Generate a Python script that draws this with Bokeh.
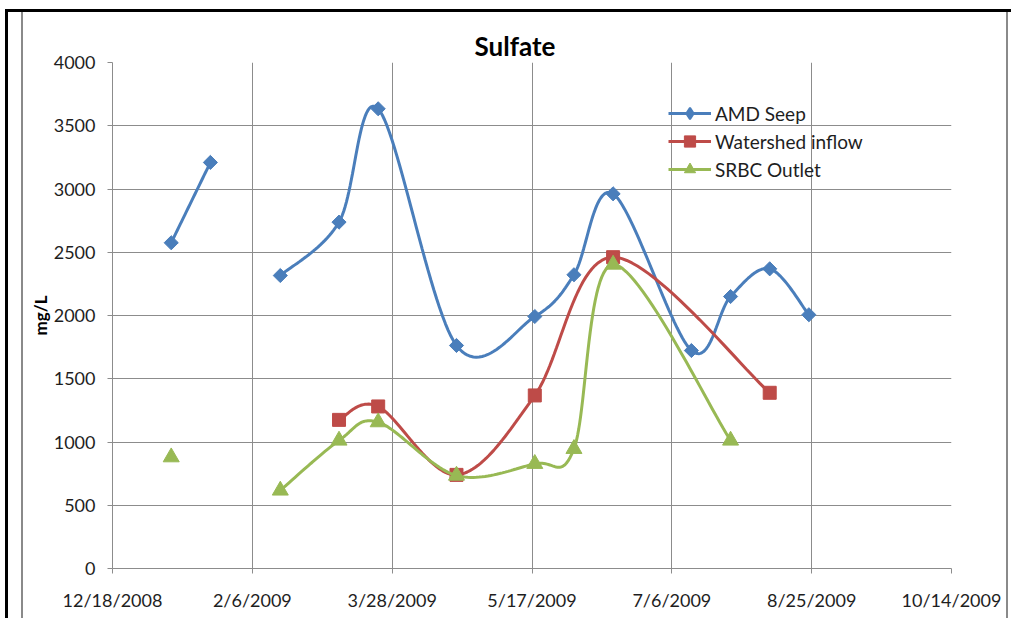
import numpy as np
import pandas as pd
from bokeh.plotting import figure
from bokeh.models import FixedTicker, Legend, LegendItem, Range1d
from bokeh.embed import file_html
from bokeh.resources import INLINE

# ---------------- data ----------------
title_text = "Sulfate"
y_label = "mg/L"

# None marks a break in a series' line
amd_dates = ["2009-01-08", "2009-01-22", None, "2009-02-16", "2009-03-09", "2009-03-23",
             "2009-04-20", "2009-05-18", "2009-06-01", "2009-06-15", "2009-07-13",
             "2009-07-27", "2009-08-10", "2009-08-24"]
amd_seep = [2575, 3210, None, 2316, 2738, 3634, 1763, 1992, 2322, 2962, 1723, 2150, 2369, 2006]

inflow_dates = ["2009-03-09", "2009-03-23", "2009-04-20", "2009-05-18", "2009-06-15", "2009-08-10"]
watershed_inflow = [1175, 1281, 740, 1368, 2461, 1389]

srbc_dates = ["2009-01-08", None, "2009-02-16", "2009-03-09", "2009-03-23", "2009-04-20",
              "2009-05-18", "2009-06-01", "2009-06-15", "2009-07-27"]
srbc_outlet = [880, None, 617, 1012, 1157, 735, 828, 946, 2403, 1012]

series_names = ["AMD Seep", "Watershed inflow", "SRBC Outlet"]

x_tick_labels = ["12/18/2008", "2/6/2009", "3/28/2009", "5/17/2009", "7/6/2009", "8/25/2009", "10/14/2009"]
y_ticks = [0, 500, 1000, 1500, 2000, 2500, 3000, 3500, 4000]

# ---------------- styling ----------------
BLUE, RED, GREEN = "#4A7EBB", "#BE4B48", "#98B954"
GRID = "#8c8c8c"
FONT = "Lato"


def to_ms(s):
    return pd.Timestamp(s).value / 1e6


def segments(dates, vals):
    segs, cur = [], []
    for d, v in zip(dates, vals):
        if d is None or v is None:
            if cur:
                segs.append(cur)
            cur = []
        else:
            cur.append((to_ms(d), float(v)))
    if cur:
        segs.append(cur)
    return segs


def smooth(dates, vals, n=30):
    xs, ys = [], []
    for seg in segments(dates, vals):
        P = np.array(seg)
        if len(P) < 2:
            continue
        for i in range(len(P) - 1):
            p0 = P[i - 1] if i > 0 else P[i]
            p1, p2 = P[i], P[i + 1]
            p3 = P[i + 2] if i + 2 < len(P) else P[i + 1]
            c1 = p1 + (p2 - p0) / 6.0
            c2 = p2 - (p3 - p1) / 6.0
            t = np.linspace(0, 1, n)[:, None] if i == 0 else np.linspace(0, 1, n)[1:, None]
            B = ((1 - t) ** 3) * p1 + 3 * ((1 - t) ** 2) * t * c1 + 3 * (1 - t) * t * t * c2 + t ** 3 * p2
            xs.extend(B[:, 0].tolist())
            ys.extend(B[:, 1].tolist())
        xs.append(np.nan)
        ys.append(np.nan)
    return xs, ys


def points(dates, vals):
    px, py = [], []
    for d, v in zip(dates, vals):
        if d is not None and v is not None:
            px.append(to_ms(d))
            py.append(v)
    return px, py


x_ticks = [to_ms(pd.to_datetime(s, format="%m/%d/%Y")) for s in x_tick_labels]

# page / chart-area frame lines drawn as inset shadows on the figure's host element
frame_css = ", ".join([
    "inset 0 9px 0 0 white",
    "inset 5px 0 0 0 white",
    "inset 0 12px 0 0 black",
    "inset 8px 0 0 0 black",
    "inset 21px 0 0 0 white",
    "inset 23px 0 0 0 #8a8a8a",
    "inset -3px 0 0 0 white",
    "inset -5px 0 0 0 #8a8a8a",
])

p = figure(width=1011, height=618, output_backend="svg", toolbar_location=None,
           x_range=Range1d(x_ticks[0], x_ticks[-1]), y_range=Range1d(y_ticks[0], y_ticks[-1]),
           min_border_left=112, min_border_right=60, min_border_top=62, min_border_bottom=50,
           styles={"box-shadow": frame_css, "background-color": "white"})
p.background_fill_color = "white"
p.border_fill_alpha = 0
p.outline_line_color = None

p.title.text = title_text
p.title.text_font = FONT
p.title.text_font_size = "26px"
p.title.text_font_style = "bold"
p.title.text_color = "black"
p.title.align = "left"
p.title.offset = 362
p.title.standoff = 1

# axes
for ax in (p.xaxis[0], p.yaxis[0]):
    ax.axis_line_color = GRID
    ax.major_tick_line_color = GRID
    ax.major_tick_out = 5
    ax.major_tick_in = 0
    ax.minor_tick_line_color = None
    ax.major_label_text_font = FONT
    ax.major_label_text_font_size = "18px"
    ax.major_label_text_color = "#1e1e1e"

p.xaxis.ticker = FixedTicker(ticks=x_ticks)
p.xaxis.major_label_overrides = {t: s for t, s in zip(x_ticks, x_tick_labels)}
p.xaxis.major_label_standoff = 15

p.yaxis.ticker = FixedTicker(ticks=y_ticks)
p.yaxis.major_label_standoff = 12
p.yaxis.axis_label = y_label
p.yaxis.axis_label_text_font = FONT
p.yaxis.axis_label_text_font_size = "17px"
p.yaxis.axis_label_text_font_style = "bold"
p.yaxis.axis_label_text_color = "black"
p.yaxis.axis_label_standoff = 0

p.grid.grid_line_color = GRID
p.grid.grid_line_width = 1

# series
items = []
specs = [
    (amd_dates, amd_seep, BLUE, dict(marker="square", angle=np.pi / 4, size=10), "diamond"),
    (inflow_dates, watershed_inflow, RED, dict(marker="square", size=13), None),
    (srbc_dates, srbc_outlet, GREEN, dict(marker="triangle", size=16), None),
]
for name, (d, v, col, mk, legend_marker) in zip(series_names, specs):
    lx, ly = smooth(d, v)
    r_line = p.line(lx, ly, line_color=col, line_width=3)
    px, py = points(d, v)
    r_leg = None
    if legend_marker:
        # small diamond under the rotated squares; it supplies the legend glyph
        # (legend markers are drawn unrotated)
        r_leg = p.scatter(px, py, marker=legend_marker, size=8, fill_color=col,
                          line_color=col, line_width=2)
    r_pts = p.scatter(px, py, fill_color=col, line_color=col, line_width=1, **mk)
    items.append(LegendItem(label=name, renderers=[r_line, r_leg or r_pts]))

legend = Legend(items=items, location=(556, 385), margin=0, padding=5,
                spacing=0, glyph_width=43, glyph_height=28, label_height=20,
                label_standoff=4, border_line_color=None, background_fill_alpha=0,
                label_text_font=FONT, label_text_font_size="19px", label_text_color="#1e1e1e")
p.add_layout(legend)

open("out.html", "w").write(file_html(p, INLINE))
